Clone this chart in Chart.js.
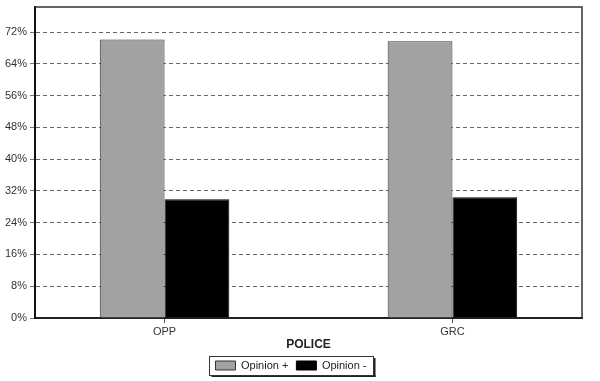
<!DOCTYPE html>
<html>
<head>
<meta charset="utf-8">
<script src="https://cdn.jsdelivr.net/npm/chart.js@4/dist/chart.umd.min.js"></script>
<style>
  html, body { margin: 0; padding: 0; background: #fff; }
  #wrap { width: 600px; height: 381px; }
</style>
</head>
<body>
<div id="wrap"><canvas id="barChart"></canvas></div>
<script>
const categories = ['OPP', 'GRC'];
const seriesLabels = ['Opinion +', 'Opinion -'];
const opinionPlus = [70.1, 69.7];
const opinionMinus = [29.9, 30.4];
const yTicks = [0, 8, 16, 24, 32, 40, 48, 56, 64, 72];

// frame on top/right + legend box with a small shadow
const framePlugin = {
    id: 'frame',
    afterDraw(chart) {
        const { ctx, chartArea: a } = chart;
        ctx.save();
        ctx.strokeStyle = '#333';
        ctx.lineWidth = 1.5;
        ctx.beginPath();
        ctx.moveTo(a.left, a.top);
        ctx.lineTo(a.right, a.top);
        ctx.lineTo(a.right, a.bottom);
        ctx.stroke();

        const boxes = chart.legend.legendHitBoxes;
        if (boxes && boxes.length) {
            const l = Math.min(...boxes.map(b => b.left)) - 6;
            const r = Math.max(...boxes.map(b => b.left + b.width)) + 7;
            const t = boxes[0].top - 4;
            const bt = boxes[0].top + boxes[0].height + 4;
            ctx.fillStyle = '#222';
            ctx.fillRect(l + 2, bt, r - l, 2);
            ctx.fillRect(r, t + 2, 2, bt - t);
            ctx.strokeStyle = '#333';
            ctx.lineWidth = 1;
            ctx.strokeRect(Math.round(l) + 0.5, Math.round(t) + 0.5, Math.round(r - l), Math.round(bt - t));
        }
        ctx.restore();
    }
};

Chart.defaults.font.family = "'Liberation Sans', Arial, sans-serif";
Chart.defaults.font.size = 11;
Chart.defaults.color = '#333';

new Chart(document.getElementById('barChart'), {
    type: 'bar',
    data: {
        datasets: [
            {
                label: seriesLabels[0],
                data: opinionPlus.map((v, i) => ({ x: i, y: v })),
                backgroundColor: '#a2a2a2',
                borderColor: '#333',
                borderWidth: 1
            },
            {
                label: seriesLabels[1],
                data: opinionMinus.map((v, i) => ({ x: i, y: v })),
                backgroundColor: '#000',
                borderColor: '#000',
                borderWidth: 1
            }
        ]
    },
    options: {
        responsive: true,
        maintainAspectRatio: false,
        animation: false,
        layout: { padding: { left: 0, top: 7, right: 18, bottom: 0 } },
        datasets: { bar: { categoryPercentage: 0.45, barPercentage: 1 } },
        plugins: {
            tooltip: { enabled: false },
            legend: {
                position: 'bottom',
                labels: { boxWidth: 20, boxHeight: 9, padding: 8, color: '#222', font: { size: 11 } }
            }
        },
        scales: {
            x: {
                type: 'linear',
                offset: false,
                min: -0.45,
                max: 1.45,
                afterBuildTicks: s => { s.ticks = categories.map((c, i) => ({ value: i })); },
                afterFit: s => { s.height = 34; },
                ticks: { callback: v => categories[v], padding: 2, color: '#333' },
                grid: { offset: false, drawOnChartArea: false, drawTicks: true, tickLength: 5, tickColor: '#555' },
                border: { color: '#222', width: 2 },
                title: { display: true, text: 'POLICE', color: '#222', font: { size: 12, weight: 'bold' }, padding: { top: 1, bottom: 0 } }
            },
            y: {
                min: 0,
                max: 78.3,
                afterBuildTicks: s => { s.ticks = yTicks.map(v => ({ value: v })); },
                afterFit: s => { s.width = 35; s.paddingTop = 0; s.paddingBottom = 0; },
                ticks: { callback: v => v + '%', padding: 3, color: '#333' },
                grid: { color: '#666', lineWidth: 1, tickLength: 5, tickColor: '#777' },
                border: { color: '#111', width: 2, dash: [4, 3] }
            }
        }
    },
    plugins: [framePlugin]
});
</script>
</body>
</html>
